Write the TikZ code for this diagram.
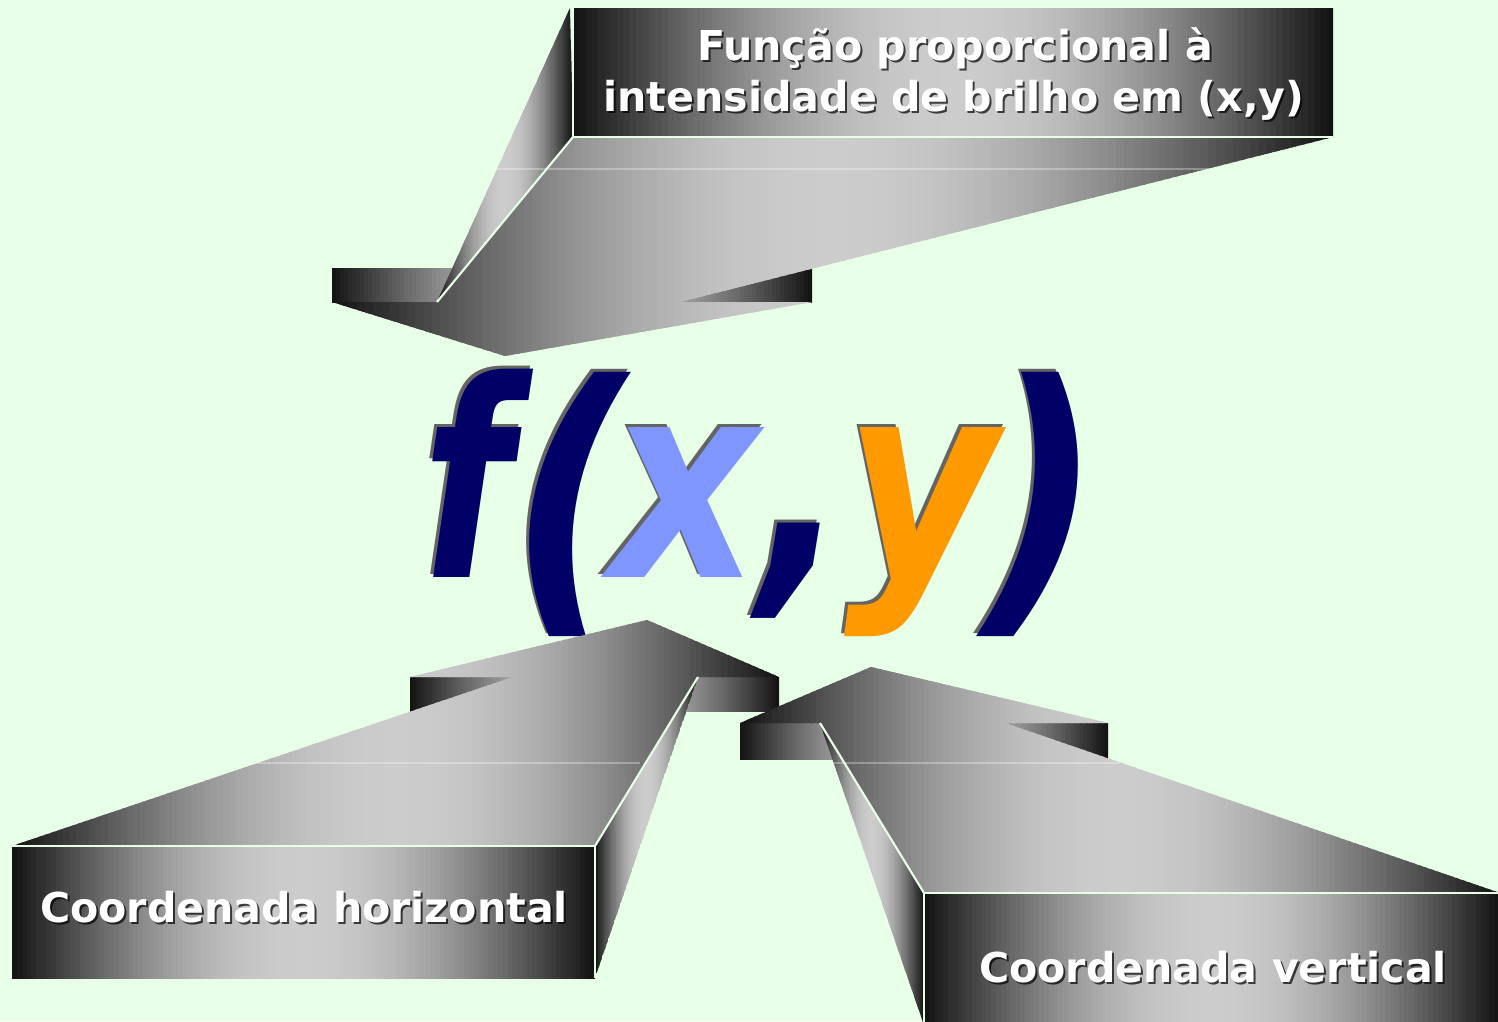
\documentclass[tikz,border=0pt]{standalone}
\usepackage{fontspec}
\newfontfamily\dv{DejaVu Sans}
\definecolor{bgc}{RGB}{230,255,230}
\definecolor{gdark}{RGB}{18,18,18}
\definecolor{glight}{RGB}{204,204,204}
\definecolor{navyc}{RGB}{0,0,102}
\definecolor{xblue}{RGB}{128,150,255}
\definecolor{yorange}{RGB}{255,153,0}
\definecolor{shadowc}{RGB}{100,100,100}
\tikzset{
  edgeline/.style={draw=bgc, line width=0.6pt},
  faint/.style={draw=white, opacity=0.3, line width=0.3pt},
  lbl/.style={inner sep=0pt, anchor=base, text=white, font=\dv\bfseries\fontsize{11.7}{14}\selectfont},
  lblshadow/.style={lbl, text=black, opacity=0.7},
  big/.style={inner sep=0pt, anchor=base, font=\dv\bfseries\itshape\fontsize{78}{80}\selectfont},
  bigshadow/.style={big, text=shadowc},
}
% metallic horizontal gradient (dark - light - dark) built from strips
\newcommand{\metalfill}[3]{%
  \begin{scope}
  \clip #1;
  \pgfmathsetmacro{\stepw}{(#3-#2)/120}%
  \foreach \i in {0,...,119}{%
    \pgfmathsetmacro{\xa}{#2+\stepw*\i}%
    \pgfmathsetmacro{\xb}{#2+\stepw*(\i+1.7)}%
    \pgfmathsetmacro{\pc}{100*sin(1.5*(\i+0.5))}%
    \fill[glight!\pc!gdark] (\xa,-10) rectangle (\xb,1100);
  }
  \end{scope}}
\begin{document}
\begin{tikzpicture}[x=0.01cm, y=-0.01cm]
\clip (0,0) rectangle (1498,1021);
\fill[bgc] (0,0) rectangle (1498,1021);

% ---------- formula f(x,y) ----------
\begin{scope}
\clip (0,0) rectangle (1080,1021);
\node[bigshadow] (fs) at (464,574) {\scalebox{0.75}[1]{f}};
\node[big, text=navyc] (f) at (467,577) {\scalebox{0.75}[1]{f}};
\node[bigshadow] (lps) at (566,594) {\scalebox{0.95}[1.082]{(}};
\node[big, text=navyc] (lp) at (569,597) {\scalebox{0.95}[1.082]{(}};
\node[bigshadow] (xs) at (682,574) {\scalebox{0.84}[1]{x}};
\node[big, text=xblue] (x) at (685,577) {\scalebox{0.84}[1]{x}};
\node[bigshadow] (cms) at (801,574) {\scalebox{0.88}[1.05]{,}};
\node[big, text=navyc] (cm) at (804,577) {\scalebox{0.88}[1.05]{,}};
\node[bigshadow] (ys) at (918,574) {\scalebox{0.86}[1]{y}};
\node[big, text=yorange] (y) at (921,577) {\scalebox{0.86}[1]{y}};
\node[bigshadow] (rps) at (1040,594) {\scalebox{0.95}[1.082]{)}};
\node[big, text=navyc] (rp) at (1043,597) {\scalebox{0.95}[1.082]{)}};
\end{scope}

% ---------- top callout ----------
\metalfill{(332,268) rectangle (812,302)}{332}{812}
\metalfill{(570,8) -- (573,137) -- (437,302) -- cycle}{437}{573}
\metalfill{(437,302) -- (573,137) -- (1333,137) -- (680,302) -- (812,302) -- (505,356) -- (332,302) -- cycle}{332}{1333}
\metalfill{(573,8) rectangle (1333,137)}{573}{1333}
\draw[faint] (490,169) -- (1210,169);
\draw[edgeline] (573,8) -- (573,137) -- (1333,137);
\draw[edgeline] (573,137) -- (437,302);
\node[lblshadow] (t1s) at (957,62) {Função proporcional à};
\node[lbl] (t1) at (955,60) {Função proporcional à};
\node[lblshadow] (t2s) at (956,113) {intensidade de brilho em (x,y)};
\node[lbl] (t2) at (954,111) {intensidade de brilho em (x,y)};

% ---------- bottom-left callout ----------
\metalfill{(410,677) rectangle (779,711)}{410}{779}
\metalfill{(595,846) -- (595,978) -- (698,677) -- cycle}{595}{698}
\metalfill{(12,846) -- (595,846) -- (698,677) -- (779,677) -- (647,620) -- (410,677) -- (513,677) -- cycle}{12}{779}
\metalfill{(12,846) rectangle (595,978)}{12}{595}
\draw[faint] (240,763) -- (640,763);
\draw[edgeline] (12,846) -- (595,846) -- (595,978);
\draw[edgeline] (595,846) -- (698,677);
\node[lblshadow] (t3s) at (306,924) {Coordenada horizontal};
\node[lbl] (t3) at (304,922) {Coordenada horizontal};

% ---------- bottom-right callout ----------
\metalfill{(740,723) rectangle (1108,759)}{740}{1108}
\metalfill{(820,723) -- (924,893) -- (924,1025) -- cycle}{820}{924}
\metalfill{(740,723) -- (871,667) -- (1108,723) -- (1005,723) -- (1500,893) -- (924,893) -- (820,723) -- cycle}{740}{1500}
\metalfill{(924,893) rectangle (1500,1025)}{924}{1500}
\draw[faint] (830,763) -- (1120,763);
\draw[edgeline] (924,1025) -- (924,893) -- (1500,893);
\draw[edgeline] (924,893) -- (820,723);
\node[lblshadow] (t4s) at (1215,984) {Coordenada vertical};
\node[lbl] (t4) at (1213,982) {Coordenada vertical};
\end{tikzpicture}
\end{document}
